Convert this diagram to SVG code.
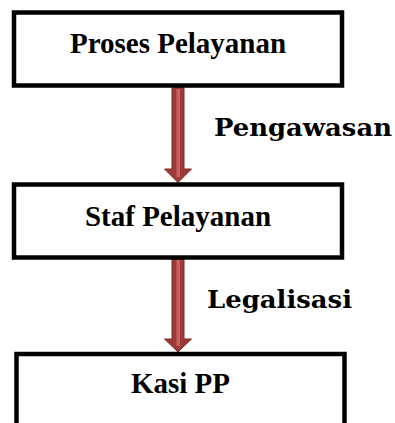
<svg xmlns="http://www.w3.org/2000/svg" width="395" height="423" viewBox="0 0 395 423">
<style>
.box{fill:#fff;stroke:#000;stroke-width:4.5}
.bt{font-family:"Liberation Serif","Times New Roman",serif;font-weight:bold;font-size:29px;fill:#000;text-anchor:middle}
.lbl{font-family:"DejaVu Serif",serif;font-weight:bold;font-size:24.5px;fill:#000}
.arr{fill:#9B3A38;stroke:#7E2B29;stroke-width:1}
.stripe{fill:#C9605C}
</style>
<rect width="395" height="423" fill="#fff"/>
<g id="connectors">
<g id="arrow1">
<path class="arr" d="M172,87 H184 V169 H191.5 L178,182.5 L164.5,169 H172 Z"/>
<rect class="stripe" x="176.5" y="89" width="3.5" height="88"/>
</g>
<g id="arrow2">
<path class="arr" d="M172,258 H184 V339 H191.5 L178,352 L164.5,339 H172 Z"/>
<rect class="stripe" x="176.5" y="260" width="3.5" height="86"/>
</g>
<text class="lbl" x="214" y="135.5" textLength="178" lengthAdjust="spacingAndGlyphs">Pengawasan</text>
<text class="lbl" x="207" y="307.5" textLength="145" lengthAdjust="spacingAndGlyphs">Legalisasi</text>
</g>
<g id="node-proses">
<rect class="box" x="14" y="12.5" width="328" height="73"/>
<text class="bt" x="178" y="53">Proses Pelayanan</text>
</g>
<g id="node-staf">
<rect class="box" x="14" y="184.5" width="328" height="73"/>
<text class="bt" x="178" y="226">Staf Pelayanan</text>
</g>
<g id="node-kasi">
<rect class="box" x="16.5" y="354" width="328" height="90"/>
<text class="bt" x="180.5" y="393">Kasi PP</text>
</g>
</svg>
